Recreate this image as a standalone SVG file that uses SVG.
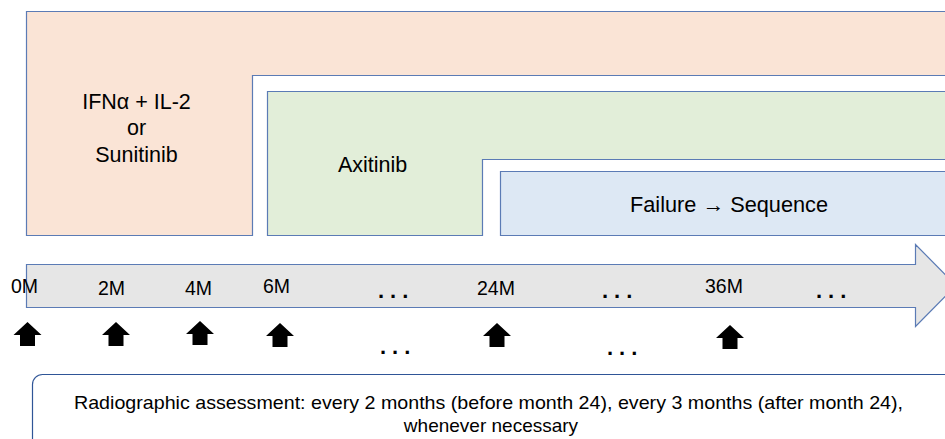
<svg xmlns="http://www.w3.org/2000/svg" width="945" height="439" viewBox="0 0 945 439">
<style>
  .lbl { font-family: "Liberation Sans", Arial, sans-serif; fill: #000; }
  .phase { stroke: #5b7bb5; stroke-width: 1.2; }
  .dots { font-family: "Liberation Sans", Arial, sans-serif; font-weight: bold; font-size: 22px; letter-spacing: 6px; fill: #000; }
</style>
<defs>
  <path id="up" d="M0,-12 L14,1 L7.5,1 L7.5,12 L-7.5,12 L-7.5,1 L-14,1 Z" fill="#000"/>
</defs>
<rect width="945" height="439" fill="#fff"/>
<g id="first-line">
  <path class="phase" d="M960,11.5 L26.5,11.5 L26.5,235.5 L252.5,235.5 L252.5,75.5 L960,75.5" fill="#fae4d6"/>
  <text class="lbl" font-size="21.5" text-anchor="middle" x="136.5" y="109">IFNα + IL-2</text>
  <text class="lbl" font-size="21.5" text-anchor="middle" x="136.5" y="135">or</text>
  <text class="lbl" font-size="21.5" text-anchor="middle" x="136.5" y="162">Sunitinib</text>
</g>
<g id="axitinib">
  <path class="phase" d="M960,91.5 L267.5,91.5 L267.5,235.5 L482.5,235.5 L482.5,159.5 L960,159.5" fill="#e2eed9"/>
  <text class="lbl" font-size="21.5" x="338" y="172">Axitinib</text>
</g>
<g id="failure">
  <path class="phase" d="M960,171.5 L500.5,171.5 L500.5,235.5 L960,235.5" fill="#dde8f4"/>
  <text class="lbl" font-size="21.5" text-anchor="middle" x="729" y="212" textLength="198" lengthAdjust="spacingAndGlyphs">Failure → Sequence</text>
</g>
<g id="timeline">
  <path d="M26.5,264.5 L915.5,264.5 L915.5,244.5 L956,285.5 L915.5,326.5 L915.5,307.5 L26.5,307.5 Z" fill="#e6e6e6" stroke="#5b7bb5" stroke-width="1.2"/>
  <g class="lbl" font-size="19.5">
    <text x="11" y="293">0M</text>
    <text x="98" y="295">2M</text>
    <text x="185" y="295">4M</text>
    <text x="263" y="293">6M</text>
    <text x="477" y="295">24M</text>
    <text x="705" y="293">36M</text>
  </g>
  <text class="dots" x="378" y="298">...</text>
  <text class="dots" x="602" y="298">...</text>
  <text class="dots" x="816" y="298">...</text>
</g>
<g id="assessments">
  <use href="#up" x="27.5" y="334"/>
  <use href="#up" x="116" y="334"/>
  <use href="#up" x="200" y="333"/>
  <use href="#up" x="280" y="335"/>
  <use href="#up" x="497" y="335"/>
  <use href="#up" x="730" y="337"/>
  <text class="dots" x="380" y="354">...</text>
  <text class="dots" x="607" y="355">...</text>
</g>
<g id="note">
  <rect x="32.5" y="374.5" width="940" height="100" rx="10" fill="#fff" stroke="#2f5597" stroke-width="1.2"/>
  <text class="lbl" font-size="19" text-anchor="middle" x="488.5" y="409" textLength="829" lengthAdjust="spacingAndGlyphs">Radiographic assessment: every 2 months (before month 24), every 3 months (after month 24),</text>
  <text class="lbl" font-size="19" text-anchor="middle" x="491" y="432">whenever necessary</text>
</g>
</svg>
